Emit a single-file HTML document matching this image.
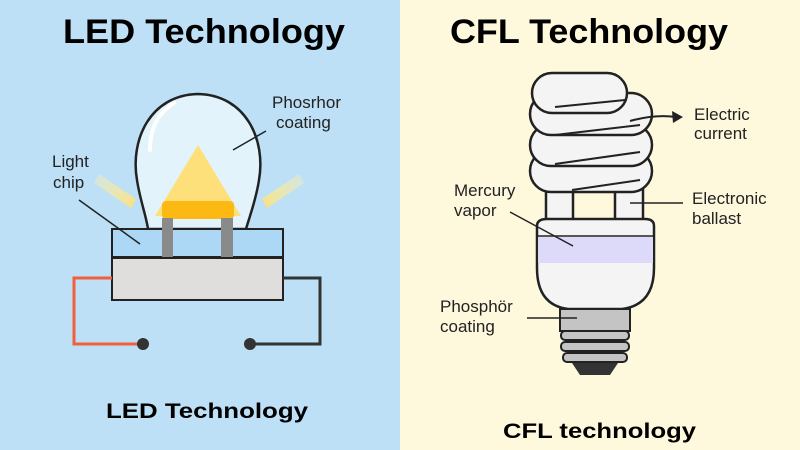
<!DOCTYPE html>
<html><head><meta charset="utf-8"><style>html,body{margin:0;padding:0}svg{display:block}</style></head><body>
<svg width="800" height="450" viewBox="0 0 800 450" xmlns="http://www.w3.org/2000/svg" font-family="Liberation Sans, sans-serif">
<defs>
<linearGradient id="rl" x1="0" y1="0" x2="1" y2="1"><stop offset="0" stop-color="#fdf3b0" stop-opacity="0.3"/><stop offset="1" stop-color="#fde07a"/></linearGradient>
<linearGradient id="rr" x1="1" y1="0" x2="0" y2="1"><stop offset="0" stop-color="#fdf3b0" stop-opacity="0.3"/><stop offset="1" stop-color="#fde07a"/></linearGradient>
</defs>
<rect x="0" y="0" width="400" height="450" fill="#bde0f6"/>
<rect x="400" y="0" width="400" height="450" fill="#fef8dc"/>
<text x="63" y="43" font-size="34" font-weight="bold" textLength="282" lengthAdjust="spacingAndGlyphs">LED Technology</text>
<text x="450" y="43" font-size="34" font-weight="bold" textLength="278" lengthAdjust="spacingAndGlyphs">CFL Technology</text>
<!-- LED -->
<polygon points="94,183 99,174 136,199 131,208" fill="url(#rl)"/>
<polygon points="304,183 299,174 262,199 267,208" fill="url(#rr)"/>
<path d="M148,229 C146,215 140,200 137,180 C130,140 150,95 198,94 C246,95 266,140 259,180 C256,200 250,215 246,229 Z" fill="#e2f3fc" stroke="#222" stroke-width="2.5"/>
<path d="M150,150 C150,125 160,112 174,103" fill="none" stroke="#fff" stroke-width="4" stroke-linecap="round"/>
<polygon points="198,145 155,216 241,216" fill="#fde07a"/>
<rect x="162" y="201" width="72" height="18" rx="4" fill="#fdb913"/>
<rect x="112" y="229" width="171" height="28" fill="#acd8f5" stroke="#222" stroke-width="2"/>
<rect x="162" y="218" width="11" height="39" fill="#8a8a8a"/>
<rect x="221" y="218" width="12" height="39" fill="#8a8a8a"/>
<rect x="112" y="258" width="171" height="42" fill="#e0dedc" stroke="#222" stroke-width="2"/>
<polyline points="112,278 74,278 74,344 143,344" fill="none" stroke="#f0603a" stroke-width="3"/>
<polyline points="283,278 320,278 320,344 250,344" fill="none" stroke="#333" stroke-width="3"/>
<circle cx="143" cy="344" r="6" fill="#333"/><circle cx="250" cy="344" r="6" fill="#333"/>
<line x1="266" y1="131" x2="233" y2="150" stroke="#222" stroke-width="1.5"/>
<line x1="79" y1="200" x2="140" y2="244" stroke="#222" stroke-width="1.5"/>
<g font-size="17" fill="#222"><text x="272" y="108">Phosrhor</text><text x="276" y="128">coating</text>
<text x="52" y="167">Light</text><text x="53" y="188">chip</text></g>
<text x="106" y="418" font-size="21" font-weight="bold" textLength="202" lengthAdjust="spacingAndGlyphs">LED Technology</text>
<!-- CFL -->
<g fill="#f4f4f4" stroke="#222" stroke-width="2.5">
<rect x="546" y="170" width="27" height="55"/>
<rect x="615" y="175" width="28" height="50"/>
<rect x="530" y="150" width="122" height="42" rx="21"/>
<rect x="530" y="124" width="122" height="42" rx="21"/>
<rect x="530" y="93" width="122" height="42" rx="21"/>
<rect x="532" y="73" width="95" height="40" rx="20"/>
<path d="M537,226 Q537,219 547,219 L645,219 Q654,219 654,226 L654,268 Q654,305 622,309 L568,309 Q537,305 537,268 Z"/>
</g>
<g stroke="#222" stroke-width="2" fill="none"><path d="M555,107 L625,100"/><path d="M555,135 L640,125"/><path d="M555,164 L640,152"/><path d="M572,190 L640,180"/></g>
<rect x="538" y="237" width="115" height="26" fill="#dcdaf8"/>
<line x1="537" y1="236" x2="654" y2="236" stroke="#222" stroke-width="1.5"/>
<rect x="560" y="309" width="70" height="22" fill="#c4c4c4" stroke="#222" stroke-width="2"/>
<g fill="#c4c4c4" stroke="#222" stroke-width="2">
<rect x="561" y="331" width="68" height="9" rx="4"/><rect x="561" y="342" width="68" height="9" rx="4"/><rect x="563" y="353" width="64" height="9" rx="4"/></g>
<polygon points="572,363 618,363 610,375 580,375" fill="#333"/>
<path d="M630,121 Q655,114 676,117" fill="none" stroke="#222" stroke-width="2"/>
<polygon points="683,117 672,111 673,123" fill="#222"/>
<line x1="630" y1="203" x2="683" y2="203" stroke="#222" stroke-width="1.5"/>
<line x1="510" y1="212" x2="573" y2="246" stroke="#222" stroke-width="1.5"/>
<line x1="527" y1="318" x2="577" y2="318" stroke="#222" stroke-width="1.5"/>
<g font-size="17" fill="#222"><text x="694" y="120">Electric</text><text x="694" y="139">current</text>
<text x="692" y="204">Electronic</text><text x="692" y="224">ballast</text>
<text x="454" y="196">Mercury</text><text x="454" y="216">vapor</text>
<text x="440" y="312">Phosphör</text><text x="440" y="332">coating</text></g>
<text x="503" y="438" font-size="21" font-weight="bold" textLength="193" lengthAdjust="spacingAndGlyphs">CFL technology</text>
</svg>
</body></html>
